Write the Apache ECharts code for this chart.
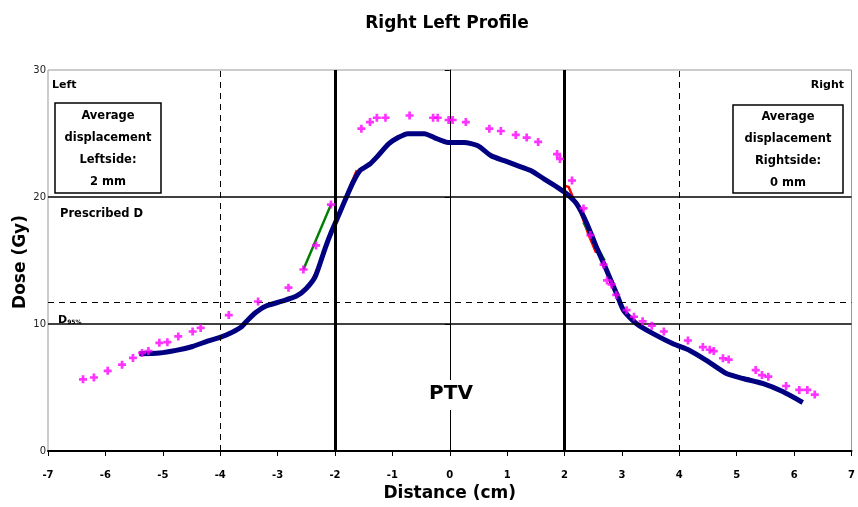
<!DOCTYPE html>
<html><head><meta charset="utf-8">
<script src="https://cdn.jsdelivr.net/npm/echarts@6/dist/echarts.min.js"></script>
<style>html,body{margin:0;padding:0;background:#fff}#c{width:858px;height:507px}</style>
</head><body><div id="c"></div>
<script>
const measured = [[-5.41,7.66],[-5.06,7.72],[-4.77,7.92],[-4.48,8.23],[-4.19,8.7],[-3.99,8.96],[-3.79,9.35],[-3.64,9.74],[-3.53,10.26],[-3.38,10.9],[-3.21,11.4],[-2.92,11.8],[-2.67,12.2],[-2.5,12.8],[-2.34,13.77],[-2.17,15.98],[-2.06,17.28],[-1.91,18.84],[-1.8,20.0],[-1.68,21.2],[-1.56,22.1],[-1.39,22.6],[-1.25,23.25],[-1.07,24.16],[-0.9,24.68],[-0.73,24.99],[-0.44,24.99],[-0.27,24.68],[-0.03,24.3],[0.25,24.3],[0.49,24.03],[0.72,23.25],[0.95,22.86],[1.18,22.47],[1.41,22.08],[1.64,21.43],[1.87,20.78],[2.05,20.2],[2.22,19.4],[2.39,17.9],[2.56,16.0],[2.74,14.16],[2.91,12.34],[3.03,11.05],[3.26,10.0],[3.55,9.22],[3.89,8.44],[4.18,7.92],[4.47,7.14],[4.82,6.1],[5.11,5.71],[5.45,5.32],[5.8,4.68],[6.15,3.82]];
const reference = [[-6.39,5.64],[-6.2,5.79],[-5.96,6.31],[-5.71,6.8],[-5.52,7.33],[-5.36,7.72],[-5.25,7.87],[-5.06,8.52],[-4.92,8.57],[-4.73,9.02],[-4.48,9.41],[-4.34,9.69],[-3.85,10.7],[-3.34,11.77],[-2.81,12.86],[-2.55,14.29],[-2.33,16.19],[-2.07,19.4],[-1.54,25.38],[-1.39,25.9],[-1.27,26.24],[-1.12,26.24],[-0.7,26.42],[-0.29,26.24],[-0.21,26.24],[-0.02,26.06],[0.05,26.06],[0.28,25.9],[0.69,25.38],[0.89,25.2],[1.15,24.89],[1.34,24.68],[1.54,24.34],[1.87,23.38],[1.92,23.0],[2.13,21.3],[2.33,19.1],[2.45,17.0],[2.68,14.68],[2.74,13.43],[2.82,13.12],[2.9,12.29],[3.08,11.09],[3.21,10.57],[3.36,10.21],[3.52,9.87],[3.73,9.41],[4.15,8.7],[4.41,8.18],[4.53,7.97],[4.6,7.87],[4.76,7.3],[4.86,7.2],[5.33,6.37],[5.44,5.98],[5.55,5.85],[5.86,5.12],[6.09,4.81],[6.23,4.81],[6.36,4.44]];
const redLeft = [[-2.42,13.2],[-2.27,14.7],[-2.12,16.5],[-1.97,18.3],[-1.85,19.4],[-1.73,20.9],[-1.62,22.1]];
const redRight = [[1.98,20.9],[2.07,20.8],[2.18,19.6],[2.28,18.8],[2.42,17.0],[2.55,15.6]];
const greenLeft = [[-2.55,14.3],[-2.07,19.4]];
const greenRight = [[2.33,18.0],[2.7,15.0]];
const xTicks = {min:-7, max:7, step:1};
const yTicks = {min:0, max:30, step:10};
const prescribedDose = 20;
const d95Level = 10;
const dashedLevel = 11.7;
const ptvEdges = [-2, 2];
const dashedX = [-4, 4];

const F = '"DejaVu Sans", Verdana, sans-serif';
const chart = echarts.init(document.getElementById('c'));
const plus = 'path://M2,0H4V2H6V4H4V6H2V4H0V2H2Z';
chart.setOption({
  animation:false,
  backgroundColor:'#fff',
  title:{text:'Right Left Profile', left:442, top:10, textAlign:'center',
    textStyle:{fontFamily:F, fontSize:17, fontWeight:'bold', color:'#000'}},
  grid:{left:48, right:3, top:70, bottom:52, show:true, borderColor:'#999', borderWidth:1},
  xAxis:{type:'value', min:xTicks.min, max:xTicks.max, interval:xTicks.step,
    name:'Distance (cm)', nameLocation:'middle', nameGap:34,
    nameTextStyle:{fontFamily:F, fontSize:17, fontWeight:'bold', color:'#000'},
    axisLine:{lineStyle:{color:'#000', width:2}},
    axisTick:{show:true, length:5, lineStyle:{color:'#000'}},
    axisLabel:{fontFamily:F, fontSize:10, fontWeight:'bold', color:'#000', margin:19},
    splitLine:{show:false}},
  yAxis:{type:'value', min:yTicks.min, max:yTicks.max, interval:yTicks.step,
    axisLine:{show:true, onZero:true, lineStyle:{color:'#000', width:1}},
    axisTick:{show:true, length:5, lineStyle:{color:'#000'}},
    axisLabel:{fontFamily:F, fontSize:10, color:'#222', margin:2, verticalAlign:'middle'},
    splitLine:{show:false}},
  graphic:[
    {type:'text', left:52, top:80, style:{text:'Left', font:'bold 11px '+F, fill:'#000'}},
    {type:'text', right:14, top:80, style:{text:'Right', font:'bold 11px '+F, fill:'#000'}},
    {type:'rect', shape:{x:55, y:103, width:106, height:90}, style:{fill:'#fff', stroke:'#000', lineWidth:1.5}},
    {type:'text', x:108, y:105, style:{text:'Average\ndisplacement\nLeftside:\n2 mm', font:'bold 11.5px '+F, fill:'#000', align:'center', lineHeight:22}},
    {type:'rect', shape:{x:733, y:105, width:110, height:88}, style:{fill:'#fff', stroke:'#000', lineWidth:1.5}},
    {type:'text', x:788, y:106, style:{text:'Average\ndisplacement\nRightside:\n0 mm', font:'bold 11.5px '+F, fill:'#000', align:'center', lineHeight:22}},
    {type:'text', x:60, y:208, style:{text:'Prescribed D', font:'bold 11.5px '+F, fill:'#000'}},
    {type:'text', x:58, y:315, style:{text:'{a|D}{b|95%}', rich:{a:{font:'bold 11px '+F, fill:'#000'}, b:{font:'bold 6px '+F, fill:'#000', padding:[4,0,0,0]}}}},
    {type:'rect', shape:{x:418, y:380, width:66, height:30}, style:{fill:'#fff'}, z:50},
    {type:'text', x:451, y:384, z:51, style:{text:'PTV', font:'bold 20px '+F, fill:'#000', align:'center'}},
    {type:'text', x:21, y:262, rotation:Math.PI/2, style:{text:'Dose (Gy)', font:'bold 17px '+F, fill:'#000', align:'center', verticalAlign:'middle'}}
  ],
  series:[
    {type:'line', data:[], silent:true,
     markLine:{silent:true, symbol:'none', label:{show:false}, animation:false,
      data:[
        {yAxis:prescribedDose, lineStyle:{color:'#000', width:1.5, type:'solid'}},
        {yAxis:d95Level, lineStyle:{color:'#000', width:1.5, type:'solid'}},
        {yAxis:dashedLevel, lineStyle:{color:'#000', width:1, type:[6,5]}},
        {xAxis:dashedX[0], lineStyle:{color:'#000', width:1, type:[6,5]}},
        {xAxis:dashedX[1], lineStyle:{color:'#000', width:1, type:[6,5]}},
        {xAxis:ptvEdges[0], lineStyle:{color:'#000', width:3, type:'solid'}},
        {xAxis:ptvEdges[1], lineStyle:{color:'#000', width:3, type:'solid'}}
      ]}},
    {type:'line', data:redLeft, showSymbol:false, lineStyle:{color:'#ff0000', width:2.5}, z:3},
    {type:'line', data:redRight, showSymbol:false, lineStyle:{color:'#ff0000', width:2.5}, z:3},
    {type:'line', data:greenLeft, showSymbol:false, lineStyle:{color:'#008000', width:2.5}, z:3},
    {type:'line', data:greenRight, showSymbol:false, lineStyle:{color:'#008000', width:2.5}, z:3},
    {type:'line', data:measured, showSymbol:false, smooth:0.2, lineStyle:{color:'#000080', width:5}, z:4},
    {type:'scatter', data:reference, symbol:plus, symbolSize:8, itemStyle:{color:'#ff00ff'}, z:5}
  ]
});
</script></body></html>
